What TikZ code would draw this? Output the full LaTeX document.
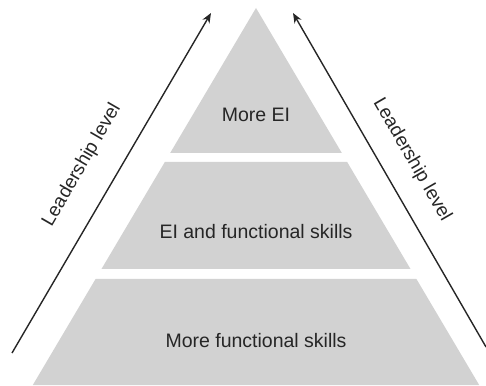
\documentclass[tikz,border=0pt]{standalone}
\usepackage{fontspec}
\setmainfont{Liberation Sans}
\usetikzlibrary{arrows.meta}

\begin{document}
\begin{tikzpicture}[x=1pt,y=1pt]
	% Einstellungen für Flächen, Texte und Pfeile
	\tikzset{
		band/.style={
			fill=gray!35 % Hellgraue Füllung der Stufen
		},
		bandtext/.style={
			text=black!85, % Dunkelgraue Schrift
			font=\fontsize{19.5}{21}\selectfont,
			align=center
		},
		leadarrow/.style={
			draw=black!85, % Pfeil in dunklem Grau
			line width=1.4pt,
			-{Stealth[length=10pt,width=8pt]}
		},
		leadlabel/.style={
			text=black!85,
			font=\fontsize{19}{21}\selectfont
		}
	}
	
	% Bildgröße festlegen
	\useasboundingbox (0,0) rectangle (486,385);
	
	% Drei Stufen der Pyramide (oben, unten, Texthöhe, Text, Name)
	\foreach \oben/\unten/\ty/\txt/\name in {
			377/232/270/More EI/stufeA,
			223/116/153/EI and functional skills/stufeB,
			106/0/44/More functional skills/stufeC} {
		\pgfmathsetmacro{\lo}{0.592*(377-\oben)} % halbe Breite oben
		\pgfmathsetmacro{\lu}{0.592*(377-\unten)} % halbe Breite unten
		\fill[band] (256-\lo,\oben) -- (256+\lo,\oben) -- (256+\lu,\unten) -- (256-\lu,\unten) -- cycle;
		\node[bandtext] (\name) at (256,\ty) {\txt}; % Beschriftung der Stufe
	}
	
	% Endpunkte der Pfeile
	\coordinate (lstart) at (12,32);
	\coordinate (lend) at (211,372);
	\coordinate (rstart) at (486,38);
	\coordinate (rend) at (293,372);
	
	% Pfeile links und rechts
	\draw[leadarrow] (lstart) -- (lend);
	\draw[leadarrow] (rstart) -- (rend);
	
	% Beschriftung entlang der Pfeile
	\node[leadlabel, rotate=60] (llabel) at (82,220) {Leadership level};
	\node[leadlabel, rotate=-60] (rlabel) at (412,225) {Leadership level};
\end{tikzpicture}
\end{document}
